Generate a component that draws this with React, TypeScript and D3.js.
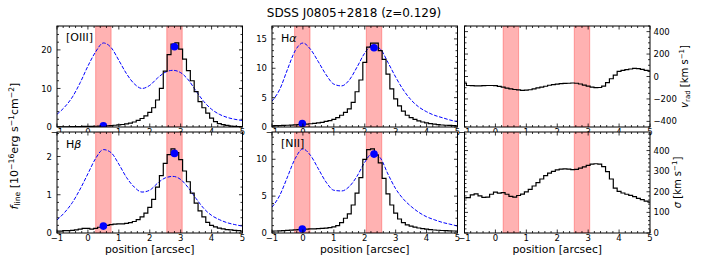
import * as d3 from 'd3'
import React from 'react'

const W = 714
const H = 259
const FONT = 'DejaVu Sans, sans-serif'

// slit positions [arcsec]: spectral bins and model grid
const POS = d3.range(49).map(i => -1 + i * 0.125)
const POS_MODEL = d3.range(25).map(i => -1 + i * 0.25)

const X_TICKS = [-1, 0, 1, 2, 3, 4, 5]

// line fluxes [1e-16 erg/s/cm2]
const OIII_FLUX = [0.05, 0.05, 0.06, 0.07, 0.08, 0.1, 0.12, 0.14, 0.16, 0.18, 0.2, 0.25, 0.3, 0.33, 0.38, 0.45, 0.55, 0.65, 0.8, 1.0, 1.3, 1.7, 2.2, 2.9, 3.8, 5.0, 7.0, 10.0, 14.5, 18.8, 21.5, 21.8, 20.2, 17.6, 14.6, 12.0, 9.2, 6.6, 5.0, 3.6, 2.3, 1.4, 0.9, 0.6, 0.4, 0.25, 0.18, 0.12, 0.1]
const HA_FLUX = [0.2, 0.22, 0.25, 0.28, 0.3, 0.33, 0.36, 0.4, 0.45, 0.5, 0.55, 0.62, 0.7, 0.8, 0.95, 1.1, 1.3, 1.6, 2.0, 2.5, 3.1, 4.2, 6.0, 8.0, 11.0, 13.6, 14.3, 14.3, 13.0, 11.5, 9.0, 6.5, 4.8, 3.6, 2.7, 2.0, 1.6, 1.3, 1.05, 0.85, 0.7, 0.58, 0.48, 0.4, 0.34, 0.3, 0.26, 0.23, 0.2]
const HB_FLUX = [0.05, 0.05, 0.06, 0.06, 0.07, 0.08, 0.1, 0.12, 0.12, 0.1, 0.12, 0.15, 0.18, 0.2, 0.22, 0.23, 0.24, 0.24, 0.25, 0.27, 0.3, 0.35, 0.42, 0.52, 0.67, 0.88, 1.2, 1.5, 1.82, 2.05, 2.2, 2.1, 1.92, 1.62, 1.34, 1.04, 0.78, 0.58, 0.42, 0.28, 0.2, 0.16, 0.13, 0.11, 0.09, 0.08, 0.07, 0.06, 0.05]
const NII_FLUX = [0.25, 0.27, 0.3, 0.32, 0.35, 0.38, 0.42, 0.46, 0.5, 0.52, 0.55, 0.57, 0.6, 0.62, 0.66, 0.72, 0.82, 1.0, 1.4, 2.0, 2.6, 3.8, 5.4, 7.5, 10.0, 11.3, 11.4, 10.6, 9.5, 7.4, 5.3, 3.8, 2.7, 1.9, 1.4, 1.1, 0.92, 0.8, 0.68, 0.6, 0.52, 0.46, 0.41, 0.37, 0.34, 0.31, 0.29, 0.27, 0.26]

// kinematics [km/s]
const VRAD = [-60, -80, -82, -83, -83, -82, -80, -80, -82, -88, -95, -103, -110, -116, -120, -123, -122, -118, -110, -102, -95, -87, -78, -73, -68, -64, -62, -60, -58, -60, -67, -76, -86, -95, -100, -98, -85, -55, -20, 12, 45, 55, 62, 67, 72, 70, 63, 55, 48]
const SIGMA = [170, 172, 185, 190, 180, 173, 174, 188, 198, 193, 196, 188, 178, 174, 182, 189, 200, 212, 228, 244, 262, 278, 290, 299, 306, 310, 311, 310, 307, 309, 315, 321, 328, 334, 336, 334, 322, 298, 262, 218, 202, 194, 188, 183, 176, 168, 162, 155, 150]

// dashed model profiles
const OIII_MODEL = [3.3, 5.2, 7.8, 11.5, 15.8, 19.5, 21.8, 20.6, 17.3, 13.8, 11.2, 10.0, 10.8, 12.7, 14.2, 14.7, 14.1, 12.2, 9.3, 6.6, 4.6, 3.3, 2.5, 2.0, 1.7]
const HA_MODEL = [4.4, 6.4, 9.8, 13.0, 14.3, 13.2, 11.1, 8.9, 7.3, 7.0, 8.0, 10.2, 12.6, 13.9, 13.3, 11.0, 8.5, 6.3, 4.6, 3.4, 2.6, 2.0, 1.6, 1.2, 0.9]
const HB_MODEL = [0.34, 0.54, 0.8, 1.15, 1.55, 1.95, 2.18, 2.1, 1.8, 1.45, 1.2, 1.07, 1.12, 1.3, 1.44, 1.48, 1.4, 1.18, 0.9, 0.64, 0.46, 0.35, 0.27, 0.22, 0.18]
const NII_MODEL = [3.5, 5.1, 7.6, 10.1, 11.4, 10.5, 8.7, 6.9, 5.8, 5.7, 6.3, 7.7, 9.6, 10.8, 10.2, 8.0, 6.0, 4.6, 3.6, 2.8, 2.2, 1.8, 1.45, 1.2, 0.95]

// apertures (red bands) and their fluxes (blue dots)
const BANDS_A: [number, number][] = [[0.25, 0.75], [2.55, 3.05]]
const BANDS_B: [number, number][] = [[-0.27, 0.23], [2.05, 2.55]]
const OIII_DOTS: [number, number][] = [[0.5, 0.3], [2.8, 20.8]]
const HA_DOTS: [number, number][] = [[-0.02, 0.6], [2.3, 13.5]]
const HB_DOTS: [number, number][] = [[0.5, 0.18], [2.8, 2.08]]
const NII_DOTS: [number, number][] = [[-0.02, 0.54], [2.3, 10.7]]

const COL_X = [57, 272, 464.5]
const ROW_Y = [26, 132]
const PW = 185.5
const PH = 101

const fmt = (v: number) => (v < 0 ? '\u2212' + Math.abs(v) : String(v))

type PanelProps = {
  id: string
  left: number
  top: number
  yDomain: [number, number]
  yTicks: number[]
  yMinor: number
  side: 'left' | 'right'
  hist: number[]
  model?: number[]
  dots?: [number, number][]
  bands: [number, number][]
  label?: React.ReactNode
  labelDy?: number
  ylabel?: React.ReactNode
  xlabel?: boolean
}

function Panel(p: PanelProps) {
  const right = p.left + PW
  const bottom = p.top + PH
  const x = d3.scaleLinear().domain([-1, 5]).range([p.left, right])
  const y = d3.scaleLinear().domain(p.yDomain).range([bottom, p.top])

  const histPath = d3.line<number>().x((_, i) => x(POS[i])).y(d => y(d)).curve(d3.curveStep)(p.hist) || ''
  const modelPath = p.model
    ? d3.line<number>().x((_, i) => x(POS_MODEL[i])).y(d => y(d)).curve(d3.curveMonotoneX)(p.model) || ''
    : ''

  const xMinor = d3.range(-1, 5.0001, 0.2).filter(v => Math.abs(v - Math.round(v)) > 1e-6)
  const yMinor = d3.range(Math.ceil(p.yDomain[0] / p.yMinor) * p.yMinor, p.yDomain[1] + 1e-9, p.yMinor)
    .filter(v => !p.yTicks.some(t => Math.abs(t - v) < 1e-6))

  const MAJ = 3.5
  const MIN = 2

  return (
    <g>
      <defs>
        <clipPath id={`clip-${p.id}`}>
          <rect x={p.left} y={p.top} width={PW} height={PH} />
        </clipPath>
      </defs>
      <rect x={p.left} y={p.top} width={PW} height={PH} fill="#fff" />

      <g clipPath={`url(#clip-${p.id})`}>
        {p.bands.map((b, i) => (
          <rect key={i} x={x(b[0])} y={p.top} width={x(b[1]) - x(b[0])} height={PH}
            fill="red" fillOpacity={0.3} stroke="red" strokeOpacity={0.3} strokeWidth={1} />
        ))}
        {p.model && (
          <path d={modelPath} fill="none" stroke="blue" strokeWidth={1} strokeDasharray="3.7,1.6" />
        )}
        <path d={histPath} fill="none" stroke="#000" strokeWidth={1.2} />
        {p.dots?.map((d, i) => (
          <circle key={i} cx={x(d[0])} cy={y(d[1])} r={3.8} fill="blue" />
        ))}
      </g>

      <rect x={p.left} y={p.top} width={PW} height={PH} fill="none" stroke="#000" strokeWidth={1} />

      {/* ticks, inward on all sides */}
      <g stroke="#000" strokeWidth={0.8}>
        {X_TICKS.map(v => (
          <g key={'xM' + v}>
            <line x1={x(v)} x2={x(v)} y1={bottom} y2={bottom - MAJ} />
            <line x1={x(v)} x2={x(v)} y1={p.top} y2={p.top + MAJ} />
          </g>
        ))}
        {xMinor.map((v, i) => (
          <g key={'xm' + i}>
            <line x1={x(v)} x2={x(v)} y1={bottom} y2={bottom - MIN} />
            <line x1={x(v)} x2={x(v)} y1={p.top} y2={p.top + MIN} />
          </g>
        ))}
        {p.yTicks.map(v => (
          <g key={'yM' + v}>
            <line x1={p.left} x2={p.left + MAJ} y1={y(v)} y2={y(v)} />
            <line x1={right} x2={right - MAJ} y1={y(v)} y2={y(v)} />
          </g>
        ))}
        {yMinor.map((v, i) => (
          <g key={'ym' + i}>
            <line x1={p.left} x2={p.left + MIN} y1={y(v)} y2={y(v)} />
            <line x1={right} x2={right - MIN} y1={y(v)} y2={y(v)} />
          </g>
        ))}
      </g>

      {/* tick labels */}
      <g fontSize={8.5} fill="#000">
        {X_TICKS.map(v => (
          <text key={'xl' + v} x={x(v)} y={bottom + 8.3} textAnchor="middle">{fmt(v)}</text>
        ))}
        {p.yTicks.map(v => (
          <text key={'yl' + v}
            x={p.side === 'left' ? p.left - 5 : right + 3.5}
            y={y(v) + 3.1}
            textAnchor={p.side === 'left' ? 'end' : 'start'}>{fmt(v)}</text>
        ))}
      </g>

      {p.label && (
        <text x={p.left + 9} y={p.top + (p.labelDy ?? 15)} fontSize={11}>{p.label}</text>
      )}
      {p.ylabel}
      {p.xlabel && (
        <text x={(p.left + right) / 2} y={253} textAnchor="middle" fontSize={10.8}>position [arcsec]</text>
      )}
    </g>
  )
}

export default function App() {
  return (
    <svg width={W} height={H} fontFamily={FONT}
      style={{ position: 'absolute', left: 0, top: 0, display: 'block', background: '#fff' }}>
      <rect width={W} height={H} fill="#fff" />
      <text x={354} y={16.5} textAnchor="middle" fontSize={12}>SDSS J0805+2818 (z=0.129)</text>

      {/* top row */}
      <Panel id="oiii" left={COL_X[0]} top={ROW_Y[0]} yDomain={[0, 26.2]} yTicks={[0, 10, 20]} yMinor={2}
        side="left" hist={OIII_FLUX} model={OIII_MODEL} dots={OIII_DOTS} bands={BANDS_A} label="[OIII]" />
      <Panel id="ha" left={COL_X[1]} top={ROW_Y[0]} yDomain={[0, 17.2]} yTicks={[0, 5, 10, 15]} yMinor={1}
        side="left" hist={HA_FLUX} model={HA_MODEL} dots={HA_DOTS} bands={BANDS_B}
        label={<>H<tspan fontStyle="italic">α</tspan></>} labelDy={15.5} />
      <Panel id="vrad" left={COL_X[2]} top={ROW_Y[0]} yDomain={[-450, 450]} yTicks={[-400, -200, 0, 200, 400]} yMinor={50}
        side="right" hist={VRAD} bands={BANDS_A}
        ylabel={
          <text transform={`translate(688,${ROW_Y[0] + PH / 2}) rotate(-90)`} textAnchor="middle" fontSize={10}>
            <tspan fontStyle="italic">v</tspan><tspan fontSize={7} dy={2}>rad</tspan>
            <tspan dy={-2}> [km s</tspan><tspan fontSize={7} dy={-4}>{'\u22121'}</tspan><tspan dy={4}>]</tspan>
          </text>
        } />

      {/* bottom row */}
      <Panel id="hb" left={COL_X[0]} top={ROW_Y[1]} yDomain={[0, 2.64]} yTicks={[0, 1, 2]} yMinor={0.2}
        side="left" hist={HB_FLUX} model={HB_MODEL} dots={HB_DOTS} bands={BANDS_A}
        label={<>H<tspan fontStyle="italic">β</tspan></>} labelDy={16} xlabel />
      <Panel id="nii" left={COL_X[1]} top={ROW_Y[1]} yDomain={[0, 13.7]} yTicks={[0, 5, 10]} yMinor={1}
        side="left" hist={NII_FLUX} model={NII_MODEL} dots={NII_DOTS} bands={BANDS_B} label="[NII]" xlabel />
      <Panel id="sig" left={COL_X[2]} top={ROW_Y[1]} yDomain={[0, 490]} yTicks={[0, 100, 200, 300, 400]} yMinor={20}
        side="right" hist={SIGMA} bands={BANDS_A} xlabel
        ylabel={
          <text transform={`translate(680.5,${ROW_Y[1] + PH / 2}) rotate(-90)`} textAnchor="middle" fontSize={10}>
            <tspan fontStyle="italic">σ</tspan><tspan> [km s</tspan>
            <tspan fontSize={7} dy={-4}>{'\u22121'}</tspan><tspan dy={4}>]</tspan>
          </text>
        } />

      {/* shared flux label */}
      <text transform="translate(17.5,146) rotate(-90)" textAnchor="middle" fontSize={11}>
        <tspan fontStyle="italic">f</tspan><tspan fontSize={7.7} dy={2.5}>line</tspan>
        <tspan dy={-2.5}> [10</tspan><tspan fontSize={7.7} dy={-4}>{'\u221216'}</tspan>
        <tspan dy={4}>erg s</tspan><tspan fontSize={7.7} dy={-4}>{'\u22121'}</tspan>
        <tspan dy={4}>cm</tspan><tspan fontSize={7.7} dy={-4}>{'\u22122'}</tspan>
        <tspan dy={4}>]</tspan>
      </text>
    </svg>
  )
}
